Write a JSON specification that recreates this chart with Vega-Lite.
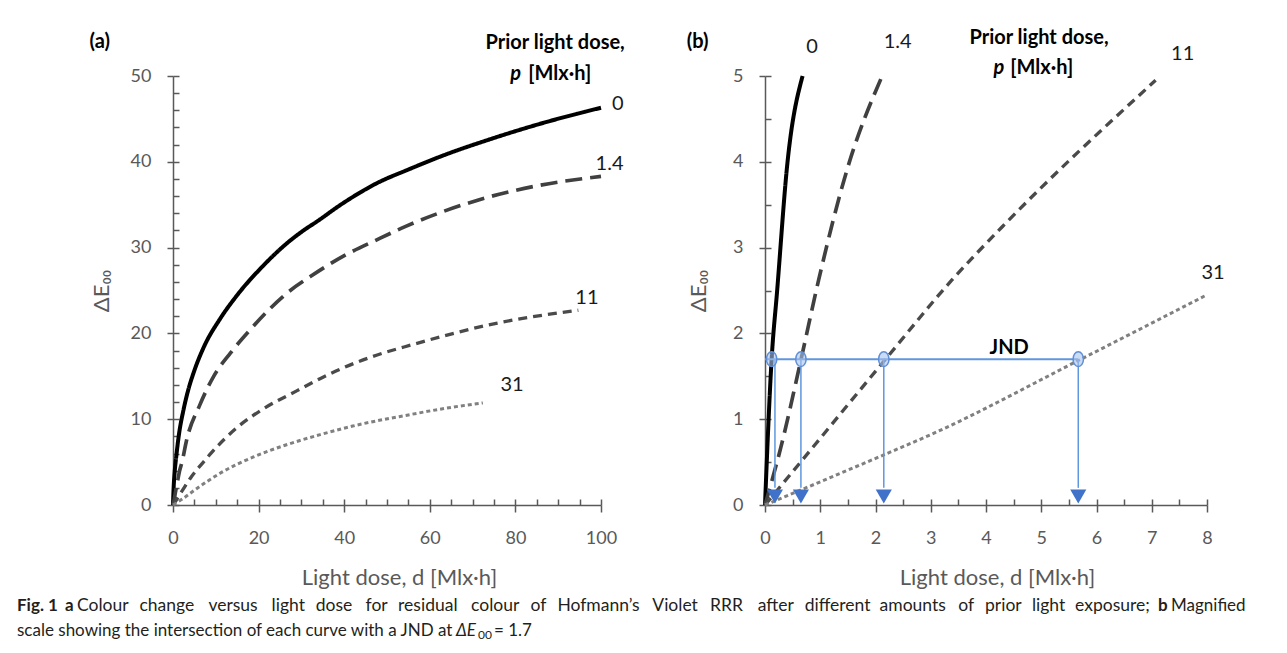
{
  "$schema": "https://vega.github.io/schema/vega-lite/v6.json",
  "background": "white",
  "padding": {"left": 17, "top": 28, "right": 0, "bottom": 0},
  "config": {
    "view": {"stroke": null},
    "font": "Lato",
    "axis": {"grid": false, "labelFlush": false, "labelOverlap": false},
    "text": {"font": "Lato", "fontSize": 17, "color": "#231f20", "align": "left", "baseline": "middle"}
  },
  "datasets": {
    "a": [
      {"p": "0", "x": 0, "y": 0}, {"p": "0", "x": 0.12, "y": 1.7}, {"p": "0", "x": 0.4, "y": 3.9}, {"p": "0", "x": 0.75, "y": 5.6}, {"p": "0", "x": 1.3, "y": 7.9}, {"p": "0", "x": 2.5, "y": 11.2}, {"p": "0", "x": 3.5, "y": 13.3}, {"p": "0", "x": 4.8, "y": 15.4}, {"p": "0", "x": 7.1, "y": 18.3}, {"p": "0", "x": 11.0, "y": 21.7}, {"p": "0", "x": 14.9, "y": 24.4}, {"p": "0", "x": 21.1, "y": 27.9}, {"p": "0", "x": 26.6, "y": 30.5}, {"p": "0", "x": 30.5, "y": 32.0}, {"p": "0", "x": 33.5, "y": 33.0}, {"p": "0", "x": 39.8, "y": 35.2}, {"p": "0", "x": 47.6, "y": 37.5}, {"p": "0", "x": 55.0, "y": 39.1}, {"p": "0", "x": 64.0, "y": 40.9}, {"p": "0", "x": 73.9, "y": 42.6}, {"p": "0", "x": 88.4, "y": 44.8}, {"p": "0", "x": 100, "y": 46.3},
      {"p": "1.4", "x": 0, "y": 0}, {"p": "1.4", "x": 0.3, "y": 0.7}, {"p": "1.4", "x": 0.65, "y": 1.7}, {"p": "1.4", "x": 1.0, "y": 2.6}, {"p": "1.4", "x": 1.5, "y": 3.9}, {"p": "1.4", "x": 2.1, "y": 5.0}, {"p": "1.4", "x": 3.2, "y": 7.6}, {"p": "1.4", "x": 6.3, "y": 11.7}, {"p": "1.4", "x": 9.5, "y": 15.0}, {"p": "1.4", "x": 13.4, "y": 17.7}, {"p": "1.4", "x": 18.0, "y": 20.4}, {"p": "1.4", "x": 22.7, "y": 22.9}, {"p": "1.4", "x": 27.4, "y": 25.0}, {"p": "1.4", "x": 32.0, "y": 26.6}, {"p": "1.4", "x": 39.8, "y": 29.0}, {"p": "1.4", "x": 47.6, "y": 30.9}, {"p": "1.4", "x": 54.5, "y": 32.5}, {"p": "1.4", "x": 71.0, "y": 35.5}, {"p": "1.4", "x": 85.0, "y": 37.2}, {"p": "1.4", "x": 100, "y": 38.3},
      {"p": "11", "x": 0, "y": 0}, {"p": "11", "x": 0.67, "y": 0.5}, {"p": "11", "x": 2.2, "y": 1.7}, {"p": "11", "x": 4.3, "y": 3.3}, {"p": "11", "x": 7.1, "y": 5.0}, {"p": "11", "x": 9.0, "y": 6.1}, {"p": "11", "x": 14.9, "y": 9.0}, {"p": "11", "x": 21.1, "y": 11.2}, {"p": "11", "x": 28.9, "y": 13.3}, {"p": "11", "x": 36.7, "y": 15.3}, {"p": "11", "x": 46.0, "y": 17.2}, {"p": "11", "x": 56.0, "y": 18.7}, {"p": "11", "x": 75.8, "y": 21.2}, {"p": "11", "x": 94.7, "y": 22.7},
      {"p": "31", "x": 0, "y": 0}, {"p": "31", "x": 2.2, "y": 0.7}, {"p": "31", "x": 5.5, "y": 1.9}, {"p": "31", "x": 11.0, "y": 3.7}, {"p": "31", "x": 18.8, "y": 5.6}, {"p": "31", "x": 27.0, "y": 7.1}, {"p": "31", "x": 34.4, "y": 8.2}, {"p": "31", "x": 42.0, "y": 9.2}, {"p": "31", "x": 55.0, "y": 10.5}, {"p": "31", "x": 64.0, "y": 11.3}, {"p": "31", "x": 72.4, "y": 11.9}
    ],
    "b": [
      {"p": "0", "x": 0, "y": 0}, {"p": "0", "x": 0.12, "y": 1.7}, {"p": "0", "x": 0.22, "y": 2.5}, {"p": "0", "x": 0.4, "y": 3.95}, {"p": "0", "x": 0.68, "y": 5.0},
      {"p": "1.4", "x": 0, "y": 0}, {"p": "1.4", "x": 0.29, "y": 0.68}, {"p": "1.4", "x": 0.65, "y": 1.69}, {"p": "1.4", "x": 0.97, "y": 2.62}, {"p": "1.4", "x": 1.5, "y": 3.94}, {"p": "1.4", "x": 2.12, "y": 5.0},
      {"p": "11", "x": 0, "y": 0}, {"p": "11", "x": 0.67, "y": 0.52}, {"p": "11", "x": 2.17, "y": 1.69}, {"p": "11", "x": 3.38, "y": 2.62}, {"p": "11", "x": 4.29, "y": 3.24}, {"p": "11", "x": 7.07, "y": 4.95},
      {"p": "31", "x": 0, "y": 0}, {"p": "31", "x": 2.17, "y": 0.59}, {"p": "31", "x": 3.0, "y": 0.82}, {"p": "31", "x": 5.69, "y": 1.69}, {"p": "31", "x": 8.0, "y": 2.45}
    ],
    "labA": [
      {"x": -17.1, "y": 54.0, "t": "(a)", "k": "bold"},
      {"x": 89.3, "y": 53.8, "t": "Prior light dose,", "k": "bold"},
      {"x": 81.3, "y": 50.2, "t": "p", "k": "pr"},
      {"x": 83.0, "y": 50.2, "t": "[Mlx·h]", "k": "ul"},
      {"x": 103.9, "y": 46.7, "t": "0", "k": "norm"},
      {"x": 102.0, "y": 39.8, "t": "1.4", "k": "norm"},
      {"x": 96.7, "y": 24.1, "t": "11", "k": "norm"},
      {"x": 79.2, "y": 14.0, "t": "31", "k": "norm"}
    ],
    "labB": [
      {"x": -1.22, "y": 5.4, "t": "(b)", "k": "bold"},
      {"x": 4.96, "y": 5.44, "t": "Prior light dose,", "k": "bold"},
      {"x": 4.33, "y": 5.09, "t": "p", "k": "pr"},
      {"x": 4.44, "y": 5.09, "t": "[Mlx·h]", "k": "ul"},
      {"x": 0.85, "y": 5.34, "t": "0", "k": "norm"},
      {"x": 2.4, "y": 5.4, "t": "1.4", "k": "norm"},
      {"x": 7.56, "y": 5.26, "t": "11", "k": "norm"},
      {"x": 8.11, "y": 2.7, "t": "31", "k": "norm"},
      {"x": 4.42, "y": 1.83, "t": "JND", "k": "bold"}
    ],
    "jnd": [
      {"p": "0", "d": 0.12, "arrow": 0.18, "dE": 1.7},
      {"p": "1.4", "d": 0.65, "arrow": 0.65, "dE": 1.7},
      {"p": "11", "d": 2.15, "arrow": 2.15, "dE": 1.7},
      {"p": "31", "d": 5.67, "arrow": 5.67, "dE": 1.7}
    ],
    "jndLine": [{"d0": 0, "d1": 5.67, "dE": 1.7}],
    "cap": [
      {"line": 1, "id": "fig", "t": "Fig. 1"},
      {"line": 1, "id": "a", "t": "a"},
      {"line": 1, "id": "w1", "t": "Colour"},
      {"line": 1, "id": "w2", "t": "change"},
      {"line": 1, "id": "w3", "t": "versus"},
      {"line": 1, "id": "w4", "t": "light"},
      {"line": 1, "id": "w5", "t": "dose"},
      {"line": 1, "id": "w6", "t": "for"},
      {"line": 1, "id": "w7", "t": "residual"},
      {"line": 1, "id": "w8", "t": "colour"},
      {"line": 1, "id": "w9", "t": "of"},
      {"line": 1, "id": "w10", "t": "Hofmann’s"},
      {"line": 1, "id": "w11", "t": "Violet"},
      {"line": 1, "id": "w12", "t": "RRR"},
      {"line": 1, "id": "w13", "t": "after"},
      {"line": 1, "id": "w14", "t": "different"},
      {"line": 1, "id": "w15", "t": "amounts"},
      {"line": 1, "id": "w16", "t": "of"},
      {"line": 1, "id": "w17", "t": "prior"},
      {"line": 1, "id": "w18", "t": "light"},
      {"line": 1, "id": "w19", "t": "exposure;"},
      {"line": 1, "id": "b", "t": "b"},
      {"line": 1, "id": "mag", "t": "Magnified"},
      {"line": 2, "id": "l2", "t": "scale showing the intersection of each curve with a JND at"},
      {"line": 2, "id": "de", "t": "ΔE"},
      {"line": 2, "id": "sub", "t": "00"},
      {"line": 2, "id": "eq", "t": "= 1.7"}
    ]
  },
  "concat": [
    {
      "width": 428,
      "height": 429,
      "resolve": {"axis": {"x": "independent", "y": "independent"}},
      "layer": [
        {
          "data": {"values": [{"x": 0, "y": 0}]},
          "mark": {"type": "point", "opacity": 0},
          "encoding": {
            "x": {"field": "x", "type": "quantitative", "scale": {"domain": [0, 100], "nice": false, "zero": false},
              "axis": {"orient": "bottom", "values": [0,5,10,15,20,25,30,35,40,45,50,55,60,65,70,75,80,85,90,95,100], "tickSize": -6, "labels": false, "domain": false, "title": null, "tickColor": "#595959", "tickWidth": 1.5}},
            "y": {"field": "y", "type": "quantitative", "scale": {"domain": [0, 50], "nice": false, "zero": false},
              "axis": {"orient": "left", "values": [0,2,4,6,8,10,12,14,16,18,20,22,24,26,28,30,32,34,36,38,40,42,44,46,48,50], "tickSize": -6, "labels": false, "domain": false, "title": null, "tickColor": "#595959", "tickWidth": 1.5}}
          }
        },
        {
          "data": {"name": "a"},
          "mark": {"type": "line", "interpolate": "monotone", "clip": false},
          "encoding": {
            "x": {"field": "x", "type": "quantitative",
              "axis": {"orient": "bottom", "values": [0,20,40,60,80,100], "tickSize": 7, "tickColor": "#595959", "tickWidth": 1.5, "domainColor": "#595959", "domainWidth": 1.5, "labelPadding": 17, "labelFontSize": 18, "labelColor": "#595959", "labelFont": "Lato", "title": "Light dose, d [Mlx·h]", "titleFont": "Lato", "titleFontSize": 22, "titleFontWeight": "normal", "titleColor": "#595959", "titlePadding": 20, "titleX": 226}},
            "y": {"field": "y", "type": "quantitative",
              "axis": {"orient": "left", "values": [0,10,20,30,40,50], "tickSize": 6, "tickColor": "#595959", "tickWidth": 1.5, "domainColor": "#595959", "domainWidth": 1.5, "labelPadding": 16, "labelFontSize": 18, "labelColor": "#595959", "labelFont": "Lato", "title": "ΔE₀₀", "titleFont": "Lato", "titleFontSize": 22, "titleFontWeight": "normal", "titleColor": "#595959", "titlePadding": 17}},
            "detail": {"field": "p"},
            "color": {"field": "p", "type": "nominal", "scale": {"domain": ["0", "1.4", "11", "31"], "range": ["#000000", "#404040", "#4a4a4a", "#808080"]}, "legend": null},
            "strokeDash": {"field": "p", "type": "nominal", "scale": {"domain": ["0", "1.4", "11", "31"], "range": [[1, 0], [17, 8], [9, 6], [4, 3]]}, "legend": null},
            "strokeWidth": {"field": "p", "type": "nominal", "scale": {"domain": ["0", "1.4", "11", "31"], "range": [4, 3, 3, 2]}, "legend": null}
          }
        },
        {
          "data": {"name": "labA"},
          "transform": [{"filter": "datum.k == 'bold'"}],
          "mark": {"type": "text", "font": "Lato", "fontSize": 20, "fontWeight": "bold", "color": "#000000", "align": "center", "baseline": "middle", "clip": false},
          "encoding": {"x": {"field": "x", "type": "quantitative", "axis": null}, "y": {"field": "y", "type": "quantitative", "axis": null}, "text": {"field": "t"}}
        },
        {
          "data": {"name": "labA"},
          "transform": [{"filter": "datum.k == 'norm'"}],
          "mark": {"type": "text", "font": "Lato", "fontSize": 20, "color": "#1a1a1a", "align": "center", "baseline": "middle", "clip": false},
          "encoding": {"x": {"field": "x", "type": "quantitative", "axis": null}, "y": {"field": "y", "type": "quantitative", "axis": null}, "text": {"field": "t"}}
        },
        {
          "data": {"name": "labA"},
          "transform": [{"filter": "datum.k == 'pr'"}],
          "mark": {"type": "text", "font": "Lato", "fontSize": 20, "fontWeight": "bold", "fontStyle": "italic", "color": "#000000", "align": "right", "baseline": "middle", "clip": false},
          "encoding": {"x": {"field": "x", "type": "quantitative", "axis": null}, "y": {"field": "y", "type": "quantitative", "axis": null}, "text": {"field": "t"}}
        },
        {
          "data": {"name": "labA"},
          "transform": [{"filter": "datum.k == 'ul'"}],
          "mark": {"type": "text", "font": "Lato", "fontSize": 20, "fontWeight": "bold", "color": "#000000", "align": "left", "baseline": "middle", "clip": false},
          "encoding": {"x": {"field": "x", "type": "quantitative", "axis": null}, "y": {"field": "y", "type": "quantitative", "axis": null}, "text": {"field": "t"}}
        }
      ]
    },
    {
      "width": 442,
      "height": 429,
      "resolve": {"axis": {"x": "independent", "y": "independent"}},
      "layer": [
        {
          "data": {"values": [{"x": 0, "y": 0}]},
          "mark": {"type": "point", "opacity": 0},
          "encoding": {
            "x": {"field": "x", "type": "quantitative", "scale": {"domain": [0, 8], "nice": false, "zero": false},
              "axis": {"orient": "bottom", "values": [0,0.5,1,1.5,2,2.5,3,3.5,4,4.5,5,5.5,6,6.5,7,7.5,8], "tickSize": -6, "labels": false, "domain": false, "title": null, "tickColor": "#595959", "tickWidth": 1.5}},
            "y": {"field": "y", "type": "quantitative", "scale": {"domain": [0, 5], "nice": false, "zero": false},
              "axis": {"orient": "left", "values": [0,0.5,1,1.5,2,2.5,3,3.5,4,4.5,5], "tickSize": -6, "labels": false, "domain": false, "title": null, "tickColor": "#595959", "tickWidth": 1.5}}
          }
        },
        {
          "data": {"name": "b"},
          "mark": {"type": "line", "interpolate": "monotone", "clip": false},
          "encoding": {
            "x": {"field": "x", "type": "quantitative",
              "axis": {"orient": "bottom", "values": [0,1,2,3,4,5,6,7,8], "tickSize": 7, "tickColor": "#595959", "tickWidth": 1.5, "domainColor": "#595959", "domainWidth": 1.5, "labelPadding": 17, "labelFontSize": 18, "labelColor": "#595959", "labelFont": "Lato", "title": "Light dose, d [Mlx·h]", "titleFont": "Lato", "titleFontSize": 22, "titleFontWeight": "normal", "titleColor": "#595959", "titlePadding": 20, "titleX": 232}},
            "y": {"field": "y", "type": "quantitative",
              "axis": {"orient": "left", "values": [0,1,2,3,4,5], "tickSize": 6, "tickColor": "#595959", "tickWidth": 1.5, "domainColor": "#595959", "domainWidth": 1.5, "labelPadding": 16, "labelFontSize": 18, "labelColor": "#595959", "labelFont": "Lato", "title": "ΔE₀₀", "titleFont": "Lato", "titleFontSize": 22, "titleFontWeight": "normal", "titleColor": "#595959", "titlePadding": 22}},
            "detail": {"field": "p"},
            "color": {"field": "p", "type": "nominal", "scale": {"domain": ["0", "1.4", "11", "31"], "range": ["#000000", "#404040", "#4a4a4a", "#808080"]}, "legend": null},
            "strokeDash": {"field": "p", "type": "nominal", "scale": {"domain": ["0", "1.4", "11", "31"], "range": [[1, 0], [20, 10], [9, 6], [4, 3]]}, "legend": null},
            "strokeWidth": {"field": "p", "type": "nominal", "scale": {"domain": ["0", "1.4", "11", "31"], "range": [4.5, 3, 2.5, 2]}, "legend": null}
          }
        },
        {
          "data": {"name": "jndLine"},
          "mark": {"type": "rule", "color": "#5f97de", "strokeWidth": 2},
          "encoding": {"x": {"field": "d0", "type": "quantitative", "axis": null}, "x2": {"field": "d1"}, "y": {"field": "dE", "type": "quantitative", "axis": null}}
        },
        {
          "data": {"name": "jnd"},
          "mark": {"type": "rule", "color": "#5f97de", "strokeWidth": 1.5},
          "encoding": {"x": {"field": "arrow", "type": "quantitative", "axis": null}, "y": {"field": "dE", "type": "quantitative", "axis": null}, "y2": {"datum": 0.2}}
        },
        {
          "data": {"name": "jnd"},
          "mark": {"type": "point", "shape": "triangle-down", "filled": true, "color": "#3f72c8", "size": 260, "opacity": 1},
          "encoding": {"x": {"field": "arrow", "type": "quantitative", "axis": null}, "y": {"datum": 0.1, "type": "quantitative", "axis": null}}
        },
        {
          "data": {"name": "jnd"},
          "mark": {"type": "point", "shape": "M0,-1A0.7,1,0,1,1,0,1A0.7,1,0,1,1,0,-1Z", "filled": true, "fill": "#a9c3ec", "fillOpacity": 0.6, "stroke": "#5f8fd8", "strokeWidth": 1.5, "size": 220, "opacity": 1},
          "encoding": {"x": {"field": "d", "type": "quantitative", "axis": null}, "y": {"field": "dE", "type": "quantitative", "axis": null}}
        },
        {
          "data": {"name": "labB"},
          "transform": [{"filter": "datum.k == 'bold'"}],
          "mark": {"type": "text", "font": "Lato", "fontSize": 20, "fontWeight": "bold", "color": "#000000", "align": "center", "baseline": "middle", "clip": false},
          "encoding": {"x": {"field": "x", "type": "quantitative", "axis": null}, "y": {"field": "y", "type": "quantitative", "axis": null}, "text": {"field": "t"}}
        },
        {
          "data": {"name": "labB"},
          "transform": [{"filter": "datum.k == 'norm'"}],
          "mark": {"type": "text", "font": "Lato", "fontSize": 20, "color": "#1a1a1a", "align": "center", "baseline": "middle", "clip": false},
          "encoding": {"x": {"field": "x", "type": "quantitative", "axis": null}, "y": {"field": "y", "type": "quantitative", "axis": null}, "text": {"field": "t"}}
        },
        {
          "data": {"name": "labB"},
          "transform": [{"filter": "datum.k == 'pr'"}],
          "mark": {"type": "text", "font": "Lato", "fontSize": 20, "fontWeight": "bold", "fontStyle": "italic", "color": "#000000", "align": "right", "baseline": "middle", "clip": false},
          "encoding": {"x": {"field": "x", "type": "quantitative", "axis": null}, "y": {"field": "y", "type": "quantitative", "axis": null}, "text": {"field": "t"}}
        },
        {
          "data": {"name": "labB"},
          "transform": [{"filter": "datum.k == 'ul'"}],
          "mark": {"type": "text", "font": "Lato", "fontSize": 20, "fontWeight": "bold", "color": "#000000", "align": "left", "baseline": "middle", "clip": false},
          "encoding": {"x": {"field": "x", "type": "quantitative", "axis": null}, "y": {"field": "y", "type": "quantitative", "axis": null}, "text": {"field": "t"}}
        }
      ]
    },
    {
      "width": 428,
      "height": 50,
      "data": {"name": "cap"},
      "encoding": {
        "x": {"datum": 0, "type": "quantitative", "scale": {"domain": [0, 1]}, "axis": null},
        "y": {"field": "line", "type": "ordinal", "scale": {"paddingInner": 0, "paddingOuter": 0}, "axis": null},
        "text": {"field": "t"}
      },
      "layer": [
        {"transform": [{"filter": "datum.id == 'fig'"}], "mark": {"type": "text", "fontWeight": "bold", "dx": -156}},
        {"transform": [{"filter": "datum.id == 'a'"}], "mark": {"type": "text", "fontWeight": "bold", "dx": -108}},
        {"transform": [{"filter": "datum.id == 'w1'"}], "mark": {"type": "text", "fontSize": 17.5, "dx": -96}},
        {"transform": [{"filter": "datum.id == 'w2'"}], "mark": {"type": "text", "fontSize": 17.5, "dx": -33.5}},
        {"transform": [{"filter": "datum.id == 'w3'"}], "mark": {"type": "text", "fontSize": 17.5, "dx": 35.4}},
        {"transform": [{"filter": "datum.id == 'w4'"}], "mark": {"type": "text", "fontSize": 17.5, "dx": 98.6}},
        {"transform": [{"filter": "datum.id == 'w5'"}], "mark": {"type": "text", "fontSize": 17.5, "dx": 142.8}},
        {"transform": [{"filter": "datum.id == 'w6'"}], "mark": {"type": "text", "fontSize": 17.5, "dx": 192.6}},
        {"transform": [{"filter": "datum.id == 'w7'"}], "mark": {"type": "text", "fontSize": 17.5, "dx": 225.1}},
        {"transform": [{"filter": "datum.id == 'w8'"}], "mark": {"type": "text", "fontSize": 17.5, "dx": 298.1}},
        {"transform": [{"filter": "datum.id == 'w9'"}], "mark": {"type": "text", "fontSize": 17.5, "dx": 357.5}},
        {"transform": [{"filter": "datum.id == 'w10'"}], "mark": {"type": "text", "fontSize": 17.5, "dx": 384.4}},
        {"transform": [{"filter": "datum.id == 'w11'"}], "mark": {"type": "text", "fontSize": 17.5, "dx": 479.3}},
        {"transform": [{"filter": "datum.id == 'w12'"}], "mark": {"type": "text", "fontSize": 17.5, "dx": 537}},
        {"transform": [{"filter": "datum.id == 'w13'"}], "mark": {"type": "text", "fontSize": 17.5, "dx": 584.8}},
        {"transform": [{"filter": "datum.id == 'w14'"}], "mark": {"type": "text", "fontSize": 17.5, "dx": 631.7}},
        {"transform": [{"filter": "datum.id == 'w15'"}], "mark": {"type": "text", "fontSize": 17.5, "dx": 706.6}},
        {"transform": [{"filter": "datum.id == 'w16'"}], "mark": {"type": "text", "fontSize": 17.5, "dx": 785.2}},
        {"transform": [{"filter": "datum.id == 'w17'"}], "mark": {"type": "text", "fontSize": 17.5, "dx": 812.0}},
        {"transform": [{"filter": "datum.id == 'w18'"}], "mark": {"type": "text", "fontSize": 17.5, "dx": 858.9}},
        {"transform": [{"filter": "datum.id == 'w19'"}], "mark": {"type": "text", "fontSize": 17.5, "dx": 902.1}},
        {"transform": [{"filter": "datum.id == 'b'"}], "mark": {"type": "text", "fontWeight": "bold", "dx": 985}},
        {"transform": [{"filter": "datum.id == 'mag'"}], "mark": {"type": "text", "dx": 998}},
        {"transform": [{"filter": "datum.id == 'l2'"}], "mark": {"type": "text", "dx": -156}},
        {"transform": [{"filter": "datum.id == 'de'"}], "mark": {"type": "text", "fontStyle": "italic", "dx": 283}},
        {"transform": [{"filter": "datum.id == 'sub'"}], "mark": {"type": "text", "fontSize": 12, "dx": 305, "dy": 4}},
        {"transform": [{"filter": "datum.id == 'eq'"}], "mark": {"type": "text", "dx": 321}}
      ]
    }
  ],
  "columns": 2,
  "spacing": {"row": 88, "column": 164},
  "bounds": "flush",
  "align": "none"
}
